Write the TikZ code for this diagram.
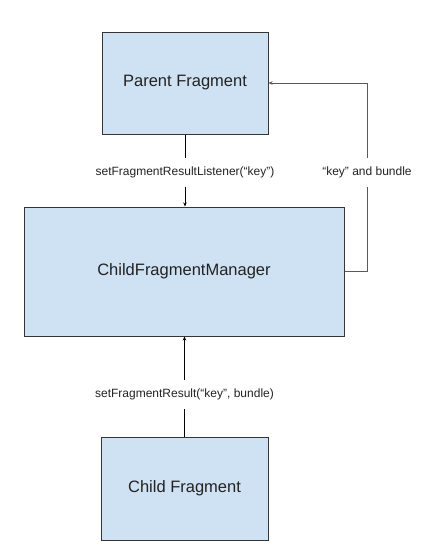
\documentclass[tikz,border=0pt]{standalone}
\usepackage{fontspec}
\setmainfont{Liberation Sans}
\usetikzlibrary{arrows.meta}
\definecolor{boxfill}{HTML}{CFE2F3}
\definecolor{boxline}{HTML}{353535}
\definecolor{txt}{HTML}{222222}
\begin{document}
\begin{tikzpicture}[x=1pt,y=-1pt,
  fragbox/.style={draw=boxline,line width=1pt,fill=boxfill,inner sep=0pt,
    font=\fontsize{16.5}{19}\selectfont,text=txt},
  lbl/.style={inner sep=0pt,minimum height=28pt,font=\fontsize{12}{14}\selectfont,text=txt},
  conn/.style={draw=black,line width=0.9pt},
  tip/.style={-{Stealth[length=4pt,width=3.5pt]}}]
\useasboundingbox (0,0) rectangle (443,547);
\node[fragbox,minimum width=166pt,minimum height=102pt] (parent) at (185,83) {Parent Fragment};
\node[fragbox,minimum width=320pt,minimum height=129pt] (mgr) at (184,271.5) {ChildFragmentManager};
\node[fragbox,minimum width=167pt,minimum height=103pt] (child) at (184.5,488.5) {Child Fragment};
\node[lbl] (l1) at (185,172.5) {setFragmentResultListener(“key”)};
\node[lbl] (l2) at (367,172.5) {“key” and bundle};
\node[lbl,minimum height=28pt] (l3) at (184.5,394.5) {setFragmentResult(“key”, bundle)};
\draw[conn] (parent.south) -- (l1.north);
\draw[conn,tip] (l1.south) -- (l1.south |- mgr.north);
\draw[conn] (child.north) -- (l3.south);
\draw[conn,tip] (l3.north) -- (l3.north |- mgr.south);
\draw[conn,draw=black!65] (mgr.east) -| (l2.south);
\draw[conn,draw=black!65,tip] (l2.north) |- (parent.east);
\end{tikzpicture}
\end{document}
